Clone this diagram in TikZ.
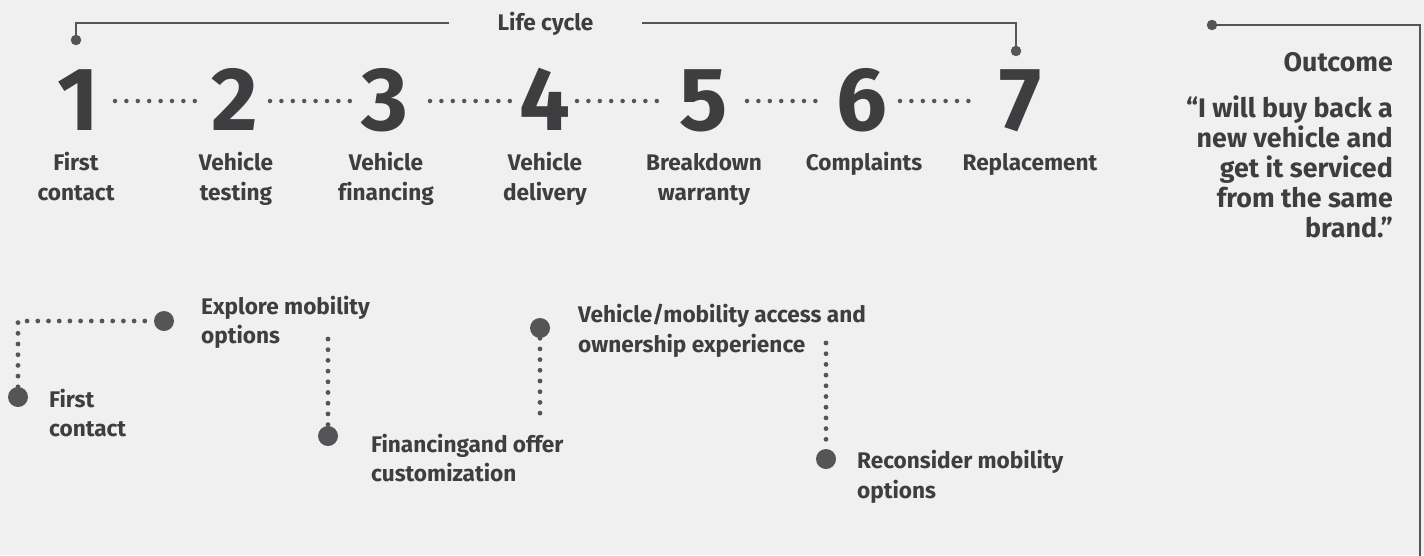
\documentclass[tikz,border=0pt]{standalone}
\usepackage{fontspec}
\setmainfont{Fira Sans}[Ligatures=CommonOff]
\definecolor{bgc}{HTML}{F0F0F0}
\definecolor{txc}{HTML}{3E3E40}
\definecolor{lnc}{HTML}{555558}
\begin{document}
\begin{tikzpicture}[x=1pt,y=-1pt,
  lab/.style={inner sep=0pt,text=txc,font=\fontsize{22.6}{27}\selectfont\bfseries,anchor=base},
  labw/.style={lab,anchor=base west},
  outc/.style={inner sep=0pt,text=txc,font=\fontsize{26.8}{31}\selectfont\bfseries,anchor=base east},
  num/.style={inner sep=0pt,text=txc,font=\fontsize{90}{90}\selectfont\bfseries,anchor=base,text height=58pt,text depth=0pt},
  brk/.style={draw=lnc,line width=2.2pt},
  tdot/.style={circle,fill=lnc,inner sep=0pt,minimum size=10.5pt},
  bdot/.style={circle,fill=lnc,inner sep=0pt,minimum size=20pt},
  dotT/.style={draw=lnc,line width=4.5pt,line cap=round,dash pattern=on 0pt off 11.4pt},
  dotB/.style={draw=lnc,line width=4.8pt,line cap=round,dash pattern=on 0pt off 10.7pt},
]
\fill[bgc] (0,0) rectangle (1424,555);
\useasboundingbox (0,0) rectangle (1424,555);

% life cycle bracket
\node[lab,anchor=center,text height=16pt,text depth=2pt,minimum width=193pt] (lc) at (545.5,23) {Life cycle};
\node[tdot] (b1) at (76,40) {};
\node[tdot] (b7) at (1016,51) {};
\draw[brk] (b1) |- (lc.west);
\draw[brk] (lc.east) -| (b7);

% digits
\node[num] (n1) at (78,130) {1};
\node[num] (n2) at (235,130) {2};
\node[num] (n3) at (385,130) {3};
\node[num] (n4) at (545,130) {4};
\node[num] (n5) at (704,130) {5};
\node[num] (n6) at (862,130) {6};
\node[num] (n7) at (1021,130) {7};

\draw[dotT,shorten <=37pt,shorten >=39pt] (n1.center) -- (n2.center);
\draw[dotT,shorten <=35pt,shorten >=35pt] (n2.center) -- (n3.center);
\draw[dotT,shorten <=45pt,shorten >=33pt] (n3.center) -- (n4.center);
\draw[dotT,shorten <=32pt,shorten >=47pt] (n4.center) -- (n5.center);
\draw[dotT,shorten <=43pt,shorten >=36pt] (n5.center) -- (n6.center);
\draw[dotT,shorten <=38pt,shorten >=44pt] (n6.center) -- (n7.center);

% digit labels
\node[lab] (l1a) at (76,170) {First};
\node[lab] (l1b) at (76,200) {contact};
\node[lab] (l2a) at (236,170) {Vehicle};
\node[lab] (l2b) at (236,200) {testing};
\node[lab] (l3a) at (386,170) {Vehicle};
\node[lab] (l3b) at (386,200) {financing};
\node[lab] (l4a) at (545,170) {Vehicle};
\node[lab] (l4b) at (545,200) {delivery};
\node[lab] (l5a) at (704,170) {Breakdown};
\node[lab] (l5b) at (704,200) {warranty};
\node[lab] (l6a) at (864,170) {Complaints};
\node[lab] (l7a) at (1030,170) {Replacement};

% outcome
\node[tdot] (o1) at (1212,25) {};
\coordinate (oend) at (1420,556);
\draw[brk] (o1) -| (oend);
\node[outc] (oc) at (1393,71) {Outcome};
\node[outc] (q1) at (1393,117) {“I will buy back a};
\node[outc] (q2) at (1393,147) {new vehicle and};
\node[outc] (q3) at (1393,177) {get it serviced};
\node[outc] (q4) at (1393,207) {from the same};
\node[outc] (q5) at (1393,237) {brand.”};

% journey
\node[bdot] (dA) at (18,397) {};
\node[bdot] (dB) at (164,321) {};
\node[bdot] (dC) at (328,436) {};
\node[bdot] (dD) at (540,328) {};
\node[bdot] (dE) at (826,459) {};
\coordinate (cC) at (328,339);
\coordinate (cD) at (540,421);
\coordinate (cE) at (826,343);
\draw[dotB] (dA) |- (dB);
\draw[dotB] (cC) -- (dC);
\draw[dotB] (dD) -- (cD);
\draw[dotB] (cE) -- (dE);

\node[labw] (tA1) at (49,407) {First};
\node[labw] (tA2) at (49,436) {contact};
\node[labw] (tB1) at (201,314) {Explore mobility};
\node[labw] (tB2) at (201,343) {options};
\node[labw] (tC1) at (371,452) {Financingand offer};
\node[labw] (tC2) at (371,481) {customization};
\node[labw] (tD1) at (578,322) {Vehicle/mobility access and};
\node[labw] (tD2) at (578,352) {ownership experience};
\node[labw] (tE1) at (857,468) {Reconsider mobility};
\node[labw] (tE2) at (857,498) {options};
\end{tikzpicture}
\end{document}
